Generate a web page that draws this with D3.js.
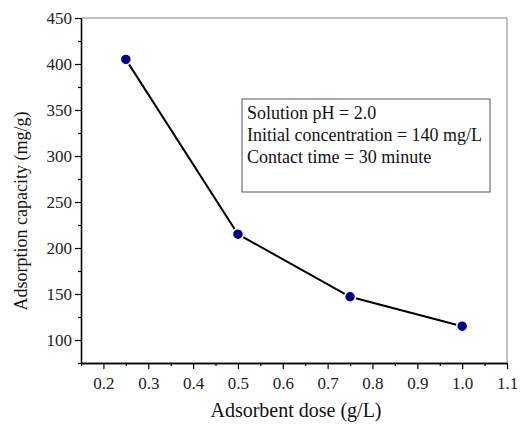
<!DOCTYPE html>
<html>
<head>
<meta charset="utf-8">
<script src="https://cdn.jsdelivr.net/npm/d3@7"></script>
<style>
  body { margin: 0; background: #fff; }
  svg text { font-family: "Liberation Serif", "Times New Roman", Times, serif; }
</style>
</head>
<body>
<div id="chart"></div>
<script>
// data
const dose = [0.25, 0.5, 0.75, 1.0];
const capacity = [405, 215, 147, 115];
const xTicks = [0.2, 0.3, 0.4, 0.5, 0.6, 0.7, 0.8, 0.9, 1.0, 1.1];
const yTicks = [100, 150, 200, 250, 300, 350, 400, 450];
const notes = ["Solution pH = 2.0", "Initial concentration = 140 mg/L", "Contact time = 30 minute"];

const width = 522, height = 425;
const margin = { top: 18, right: 15, bottom: 62, left: 81 };

const svg = d3.select("#chart").append("svg")
    .attr("width", width).attr("height", height);

const x = d3.scaleLinear()
    .domain([0.15, 1.1])
    .range([margin.left, width - margin.right]);

const y = d3.scaleLinear()
    .domain([75, 450])
    .range([height - margin.bottom, margin.top]);

// frame: top and right in grey
svg.append("line")
    .attr("x1", x(0.15)).attr("x2", x(1.1))
    .attr("y1", y(450)).attr("y2", y(450))
    .attr("stroke", "#888").attr("stroke-width", 1);
svg.append("line")
    .attr("x1", x(1.1)).attr("x2", x(1.1))
    .attr("y1", y(450)).attr("y2", y(75))
    .attr("stroke", "#888").attr("stroke-width", 1);

// minor ticks
const xMinor = d3.range(0.15, 1.1001, 0.1).map(d => +d.toFixed(2));
const yMinor = d3.range(75, 450, 50);

const xAxis = svg.append("g")
    .attr("transform", `translate(0,${y(75)})`)
    .call(d3.axisBottom(x).tickValues(xTicks).tickFormat(d3.format(".1f")).tickSize(6).tickSizeOuter(0));
const xAxisMinor = svg.append("g")
    .attr("transform", `translate(0,${y(75)})`)
    .call(d3.axisBottom(x).tickValues(xMinor).tickFormat("").tickSize(3).tickSizeOuter(0));

const yAxis = svg.append("g")
    .attr("transform", `translate(${x(0.15)},0)`)
    .call(d3.axisLeft(y).tickValues(yTicks).tickSize(6).tickSizeOuter(0));
const yAxisMinor = svg.append("g")
    .attr("transform", `translate(${x(0.15)},0)`)
    .call(d3.axisLeft(y).tickValues(yMinor).tickFormat("").tickSize(3).tickSizeOuter(0));

[xAxis, xAxisMinor, yAxis, yAxisMinor].forEach(g => {
    g.select(".domain").attr("stroke", "#000").attr("stroke-width", 1.3);
    g.selectAll(".tick line").attr("stroke", "#000").attr("stroke-width", 1.2);
    g.selectAll("text")
        .style("font-family", "'Liberation Serif', serif")
        .style("font-size", "17px")
        .attr("fill", "#222");
});
xAxis.selectAll("text").attr("y", 12).attr("dy", "0.85em");
yAxis.selectAll("text").attr("x", -9);

// line and points
const line = d3.line()
    .x((d, i) => x(dose[i]))
    .y(d => y(d));

svg.append("path")
    .datum(capacity)
    .attr("fill", "none")
    .attr("stroke", "#000")
    .attr("stroke-width", 2)
    .attr("d", line);

svg.append("g")
    .selectAll("circle")
    .data(capacity)
    .join("circle")
    .attr("cx", (d, i) => x(dose[i]))
    .attr("cy", d => y(d))
    .attr("r", 5.5)
    .attr("fill", "#000080")
    .attr("stroke", "#fff")
    .attr("stroke-width", 1.5);

// note box
const box = svg.append("g").attr("transform", "translate(242,99)");
box.append("rect")
    .attr("width", 248).attr("height", 93)
    .attr("fill", "#fff").attr("stroke", "#555").attr("stroke-width", 1);
box.selectAll("text")
    .data(notes)
    .join("text")
    .attr("x", 5)
    .attr("y", (d, i) => 20 + i * 22)
    .style("font-size", "18px")
    .attr("fill", "#111")
    .text(d => d);

// axis titles
svg.append("text")
    .attr("text-anchor", "middle")
    .attr("x", 296)
    .attr("y", 417)
    .style("font-size", "20px")
    .attr("fill", "#111")
    .text("Adsorbent dose (g/L)");

svg.append("text")
    .attr("text-anchor", "middle")
    .attr("transform", "translate(27,211) rotate(-90)")
    .style("font-size", "18px")
    .attr("fill", "#111")
    .text("Adsorption capacity (mg/g)");
</script>
</body>
</html>
